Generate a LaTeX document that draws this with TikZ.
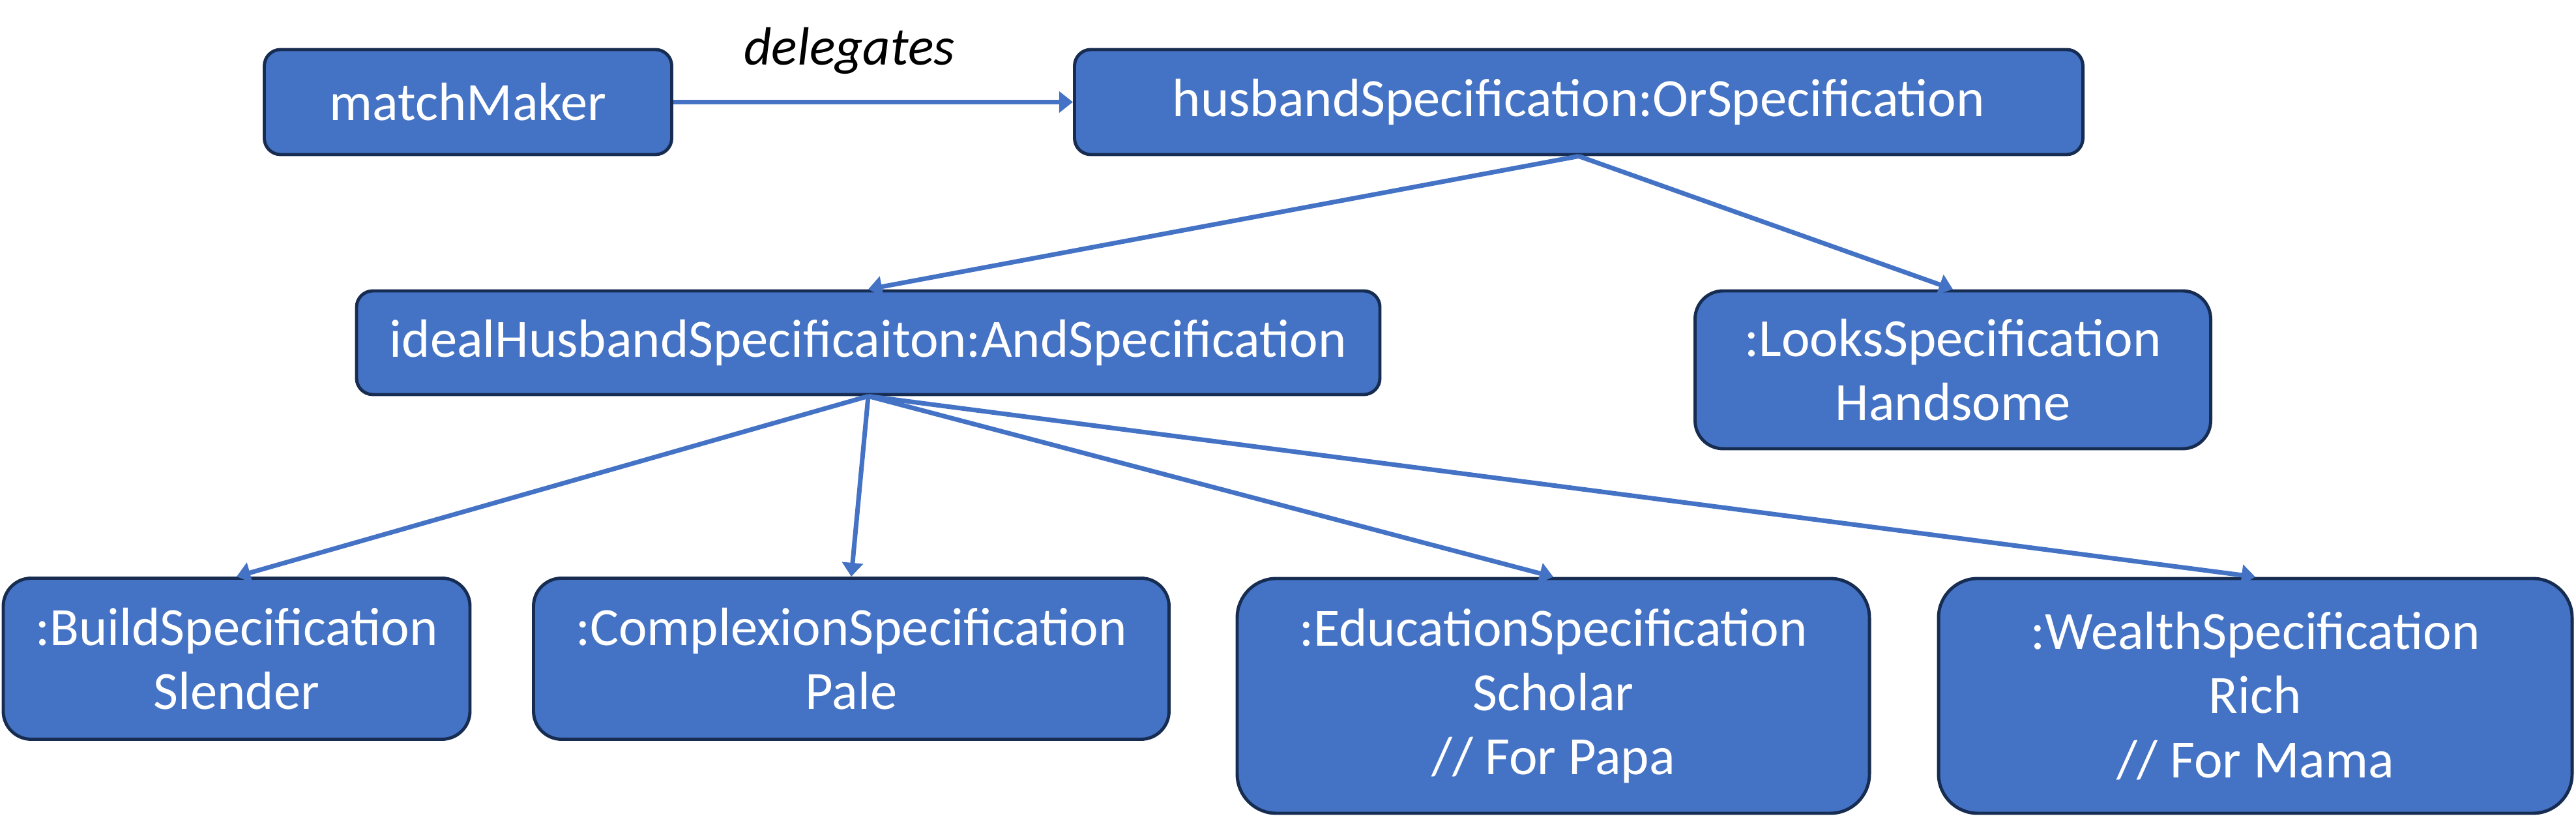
\documentclass[tikz,border=0pt]{standalone}
\usepackage{fontspec}
\setmainfont{Carlito}
\usepackage{xcolor}
\usetikzlibrary{positioning,arrows.meta}
\definecolor{boxblue}{HTML}{4472C4}
\definecolor{boxline}{HTML}{172C51}

\begin{document}
\begin{tikzpicture}[
  font=\fontsize{23.5}{28}\selectfont,
  specbox/.style={draw=boxline, line width=1.4pt, fill=boxblue, text=white,
    align=center, inner sep=0pt},
  link/.style={draw=boxblue, line width=2pt, -{Triangle[width=9pt,length=6pt]}}]
\useasboundingbox (0,0) rectangle (39.52,12.68);
% ---- top row ----
\node[specbox, rounded corners=0.25cm, minimum width=6.25cm, minimum height=1.61cm]
  (matchMaker) at (7.18,11.115) {matchMaker};
\node[specbox, rounded corners=0.25cm, minimum width=15.47cm, minimum height=1.61cm]
  (husbandSpec) at (24.22,11.115) {husbandSpecification:OrSpecification};
\node[font=\fontsize{23.5}{28}\selectfont\itshape] (delegLabel) at (13.03,11.9) {delegates};
% ---- middle row ----
\node[specbox, rounded corners=0.25cm, minimum width=15.70cm, minimum height=1.59cm]
  (idealSpec) at (13.32,7.425) {idealHusbandSpecificaiton:AndSpecification};
\node[specbox, rounded corners=0.43cm, minimum width=7.91cm, minimum height=2.42cm]
  (looksSpec) at (29.96,7.01) {:LooksSpecification\\Handsome};
% ---- bottom row ----
\node[specbox, rounded corners=0.43cm, minimum width=7.16cm, minimum height=2.47cm]
  (buildSpec) at (3.63,2.58) {:BuildSpecification\\Slender};
\node[specbox, rounded corners=0.43cm, minimum width=9.75cm, minimum height=2.47cm]
  (complexionSpec) at (13.06,2.58) {:ComplexionSpecification\\Pale};
\node[specbox, rounded corners=0.6cm, minimum width=9.70cm, minimum height=3.60cm]
  (educationSpec) at (23.83,2.01) {:EducationSpecification\\Scholar\\// For Papa};
\node[specbox, rounded corners=0.6cm, minimum width=9.72cm, minimum height=3.60cm]
  (wealthSpec) at (34.60,2.01) {:WealthSpecification\\Rich\\// For Mama};
% ---- connectors ----
\draw[link] (matchMaker) -- (husbandSpec);
\draw[link] (husbandSpec.south) -- (idealSpec.north);
\draw[link] (husbandSpec.south) -- (looksSpec.north);
\foreach \leaf in {buildSpec,complexionSpec,educationSpec,wealthSpec}
  \draw[link] (idealSpec.south) -- (\leaf.north);
\end{tikzpicture}
\end{document}
